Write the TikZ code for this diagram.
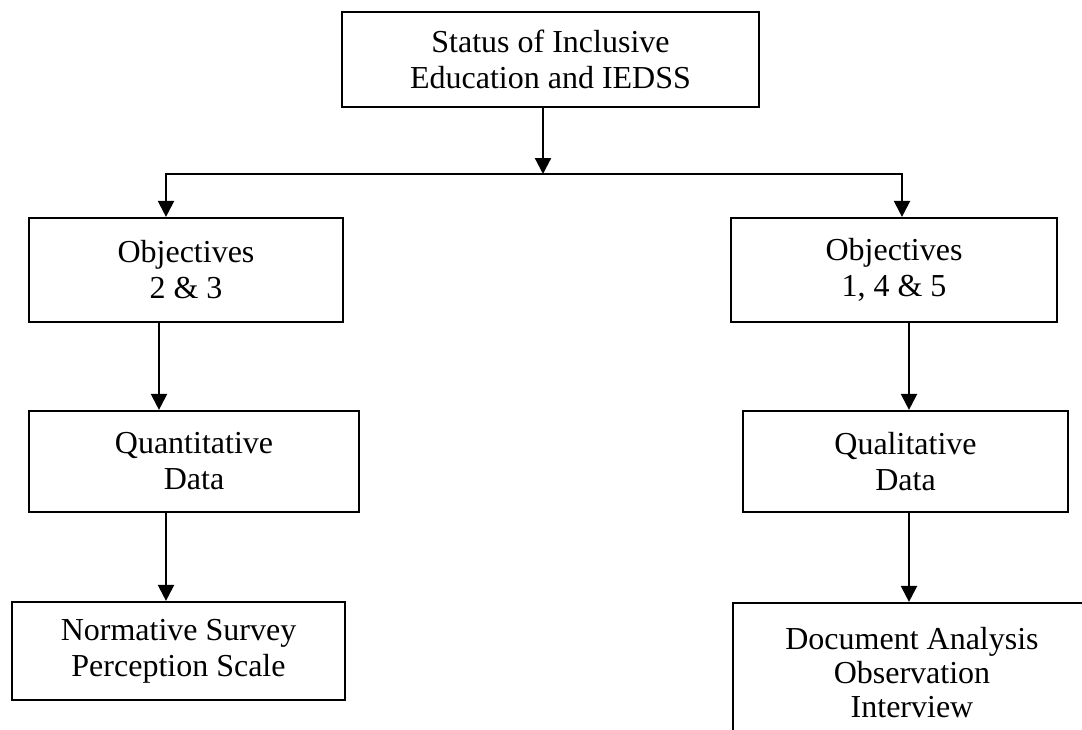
\documentclass[tikz,border=0pt]{standalone}
\usepackage{fontspec}
\setmainfont{Liberation Serif}
\usetikzlibrary{arrows.meta, positioning, calc}

\tikzset{
  box/.style={draw, line width=1.1pt, align=center, inner sep=0pt, font=\fontsize{16}{18}\selectfont},
  arr/.style={line width=1.1pt, -{Triangle[length=8pt, width=8pt]}}
}

\begin{document}
\begin{tikzpicture}[x=0.5pt, y=-0.5pt]
% Frame
\useasboundingbox (0,0) rectangle (1082,729);
\clip (0,0) rectangle (1082,729);
% Top box
\node[box, minimum width=208.5pt, minimum height=47.5pt] (status) at (550.5,59.5) {Status of Inclusive\\Education and IEDSS};
% Objectives
\node[box, minimum width=157pt, minimum height=52pt] (objL) at (186,270) {Objectives\\2 \& 3};
\node[box, minimum width=163pt, minimum height=52pt] (objR) at (894,270) {Objectives\\1, 4 \& 5};
% Data
\node[box, minimum width=165pt, minimum height=50.5pt] (quant) at (194,461.5) {Quantitative\\Data};
\node[box, minimum width=162.5pt, minimum height=50.5pt] (qual) at (905.5,461.5) {Qualitative\\Data};
% Methods
\node[box, minimum width=166.5pt, minimum height=49pt] (survey) at (178.5,651) {Normative Survey\\Perception Scale};
\node[box, font=\fontsize{16}{17}\selectfont, minimum width=179pt, minimum height=70pt] (methods) at (912,673) {Document Analysis\\Observation\\Interview};
% Lanes for the connectors
\coordinate (split) at (543,174);
\coordinate (splitL) at (166,174);
\coordinate (splitR) at (902,174);
\coordinate (laneL) at (159,0);
\coordinate (laneR) at (909,0);
% Connectors
\draw[arr] (status.south -| split) -- (split);
\draw[arr] (split) -| (splitL |- objL.north);
\draw[arr] (split) -| (splitR |- objR.north);
\draw[arr] (laneL |- objL.south) -- (laneL |- quant.north);
\draw[arr] (laneR |- objR.south) -- (laneR |- qual.north);
\draw[arr] (splitL |- quant.south) -- (splitL |- survey.north);
\draw[arr] (laneR |- qual.south) -- (laneR |- methods.north);
\end{tikzpicture}
\end{document}
